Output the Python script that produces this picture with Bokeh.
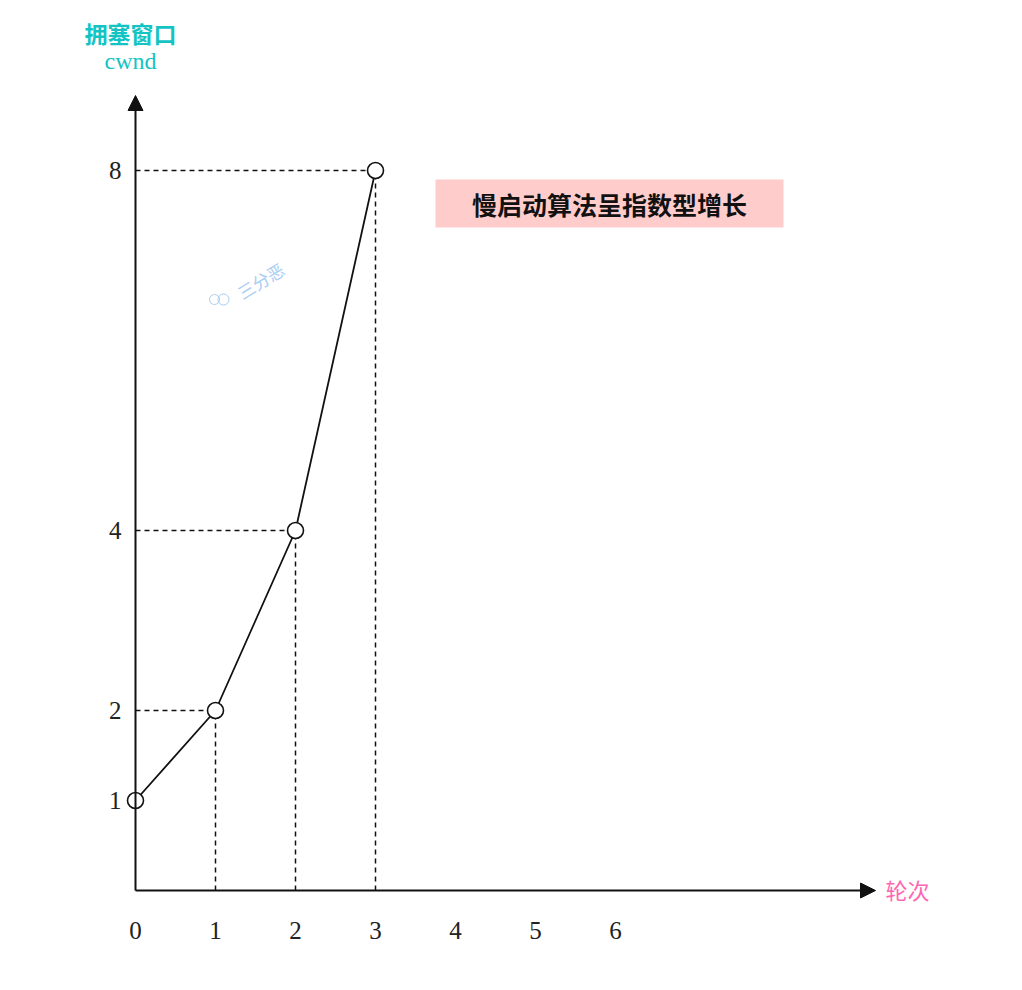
from bokeh.plotting import figure
from bokeh.models import Range1d, FixedTicker, Arrow, NormalHead, ColumnDataSource, LinearAxis
from bokeh.core.properties import value
from bokeh.embed import file_html
from bokeh.resources import INLINE

# data
rounds = [0, 1, 2, 3]
cwnd = [1, 2, 4, 8]
x_ticks = [0, 1, 2, 3, 4, 5, 6]
y_ticks = [1, 2, 4, 8]
y_title = "拥塞窗口"
y_unit = "cwnd"
x_title = "轮次"
note = "慢启动算法呈指数型增长"
watermark = "三分恶"

W, H = 1022, 990
LEFT, BOTTOM = 135, 100   # pixel position of the origin from left / bottom
XPX, YPX = 80.0, 90.0     # pixels per unit


def px(xp):
    return (xp - LEFT) / XPX


def py(yp):
    return (H - BOTTOM - yp) / YPX


p = figure(width=W, height=H, output_backend="svg", toolbar_location=None,
           x_range=Range1d(px(0), px(W)), y_range=Range1d(py(H), py(0)),
           x_axis_location=None, y_axis_location=None,
           min_border=0)
p.outline_line_color = None
p.grid.visible = False
p.background_fill_color = "white"
p.border_fill_color = "white"

xaxis = LinearAxis(fixed_location=0, ticker=FixedTicker(ticks=x_ticks), major_label_standoff=31)
yaxis = LinearAxis(fixed_location=0, ticker=FixedTicker(ticks=y_ticks), major_label_standoff=14)
for ax in (xaxis, yaxis):
    ax.axis_line_color = None
    ax.major_tick_line_color = None
    ax.minor_tick_line_color = None
    ax.major_tick_out = 0
    ax.major_tick_in = 0
    ax.major_label_text_font = "Liberation Serif"
    ax.major_label_text_font_size = "25px"
    ax.major_label_text_color = "#222222"
p.add_layout(xaxis, "below")
p.add_layout(yaxis, "left")

# axes with arrows
head = dict(size=15, fill_color="#111111", line_color="#111111", line_width=1)
p.add_layout(Arrow(x_start=0, y_start=0, x_end=px(875), y_end=0, line_width=2, line_color="#111111",
                   end=NormalHead(**head)))
p.add_layout(Arrow(x_start=0, y_start=0, x_end=0, y_end=py(95), line_width=2, line_color="#111111",
                   end=NormalHead(**head)))

src = ColumnDataSource(dict(x=rounds, y=cwnd))
hs = ColumnDataSource(dict(x=rounds[1:], y=cwnd[1:], zero=[0] * (len(rounds) - 1)))
# dashed guide lines
p.segment(x0="zero", y0="y", x1="x", y1="y", source=hs, line_color="#111111", line_width=1.5, line_dash="5 4")
p.segment(x0="x", y0="zero", x1="x", y1="y", source=hs, line_color="#111111", line_width=1.5, line_dash="5 4")

p.line("x", "y", source=src, line_color="#111111", line_width=1.8)
p.scatter("x", "y", source=src, size=16, fill_color="white", line_color="#111111", line_width=1.6)

# y axis title
p.text(x=[px(130)], y=[py(32)], text=[y_title], text_font=value("Noto Sans CJK SC"),
       text_font_style="bold", text_font_size="23px", text_color="#14C4C4", text_align="center",
       text_baseline="middle")
p.text(x=[px(130)], y=[py(60)], text=[y_unit], text_font=value("Liberation Serif"),
       text_font_size="24px", text_color="#14C4C4", text_align="center", text_baseline="middle")
# x axis title
p.text(x=[px(907)], y=[py(888)], text=[x_title], text_font=value("Noto Sans CJK SC"),
       text_font_size="22px", text_color="#FF66B2", text_align="center", text_baseline="middle")

# note box
p.quad(left=[px(435)], right=[px(783)], top=[py(179)], bottom=[py(227)],
       fill_color="#FFCCCC", line_color=None)
p.text(x=[px(609)], y=[py(203)], text=[note], text_font=value("Noto Sans CJK SC"),
       text_font_style="bold", text_font_size="25px", text_color="#111111", text_align="center",
       text_baseline="middle")

# watermark
p.text(x=[px(260)], y=[py(280)], text=[watermark], text_font=value("Noto Sans CJK SC"),
       text_font_size="17px", text_color="#A9CDF2", text_align="center", text_baseline="middle",
       angle=0.55)
p.scatter(x=[px(214), px(223)], y=[py(299), py(299)],
          size=[10, 11], fill_color=None, line_color="#A9CDF2", line_width=1)

open("out.html", "w").write(file_html(p, INLINE))
